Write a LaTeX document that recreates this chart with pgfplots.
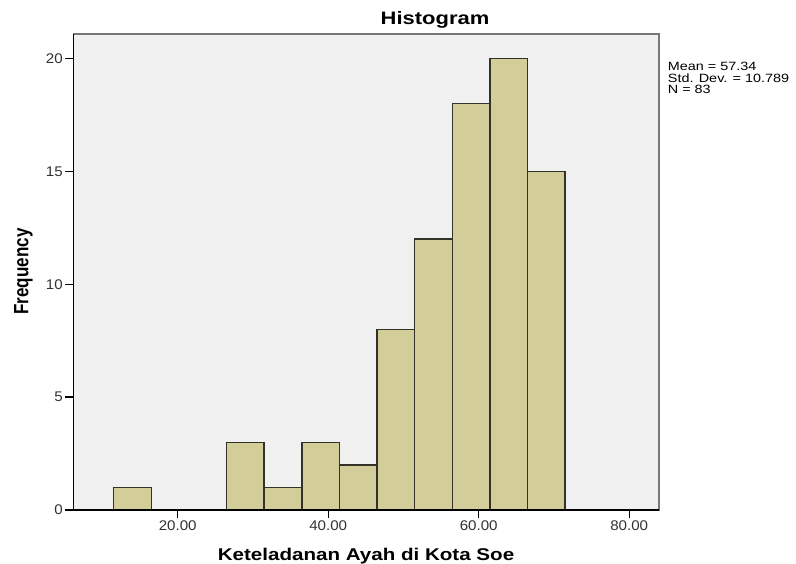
\documentclass[border=0pt]{standalone}
\usepackage{pgfplots}
\pgfplotsset{compat=1.18}
\usepackage{fontspec}
\setmainfont{Liberation Sans}
\usepackage{graphicx}
\definecolor{bgcol}{RGB}{240,240,240}
\definecolor{barcol}{RGB}{211,206,153}
\definecolor{edgecol}{RGB}{50,50,38}
\definecolor{framecol}{RGB}{120,120,120}
\definecolor{tickcol}{RGB}{50,50,50}
\newcommand{\hs}[2]{\scalebox{#1}[1]{#2}}
\newcommand{\tl}[1]{\hs{1.08}{\fontsize{14}{16}\selectfont #1}}
\begin{document}
\begin{tikzpicture}
\path[use as bounding box] (-73.3pt,-53pt) rectangle (722.7pt,510pt);
\begin{axis}[
  at={(0pt,0pt)}, anchor=south west,
  scale only axis, width=585.7pt, height=476pt,
  xmin=6.13, xmax=83.96, ymin=0, ymax=21.08,
  axis background/.style={fill=bgcol},
  axis line style={draw=framecol, line width=1.2pt},
  xtick={20,40,60,80},
  xticklabels={\tl{20.00},\tl{40.00},\tl{60.00},\tl{80.00}},
  ytick={0,5,10,15,20},
  yticklabels={\tl{0},\tl{5},\tl{10},\tl{15},\tl{20}},
  xtick pos=bottom, ytick pos=left,
  tick align=outside,
  major tick length=8pt,
  tick style={draw=black, line width=1.2pt},
  ticklabel style={text=tickcol},
  xticklabel style={yshift=1pt},
  yticklabel style={xshift=1pt},
  clip=false,
]
\addplot[ybar interval, fill=barcol, draw=edgecol, line width=1.5pt]
  coordinates {(11.5,1) (16.5,0) (21.5,0) (26.5,3) (31.5,1) (36.5,3) (41.5,2) (46.5,8) (51.5,12) (56.5,18) (61.5,20) (66.5,15) (71.5,15)};
\draw[black, line width=1.4pt] (rel axis cs:0,1) -- (rel axis cs:0,0) -- (rel axis cs:1,0);
\end{axis}
\node[anchor=base] at (361.7pt,485pt) {\hs{1.22}{\fontsize{18}{20}\selectfont\bfseries Histogram}};
\node[anchor=base] at (292.7pt,-50pt) {\hs{1.21}{\fontsize{17}{20}\selectfont\bfseries Keteladanan Ayah di Kota Soe}};
\node[anchor=base, rotate=90] at (-45pt,238.5pt) {\scalebox{1}[1.22]{\fontsize{17}{20}\selectfont\bfseries Frequency}};
\node[anchor=base west, inner sep=0pt] at (594.4pt,439pt) {\hs{1.2}{\fontsize{12}{13}\selectfont Mean = 57.34}};
\node[anchor=base west, inner sep=0pt] at (594.4pt,427.5pt) {\hs{1.2}{\fontsize{12}{13}\selectfont Std. Dev. = 10.789}};
\node[anchor=base west, inner sep=0pt] at (594.4pt,416.5pt) {\hs{1.2}{\fontsize{12}{13}\selectfont N = 83}};
\end{tikzpicture}
\end{document}
